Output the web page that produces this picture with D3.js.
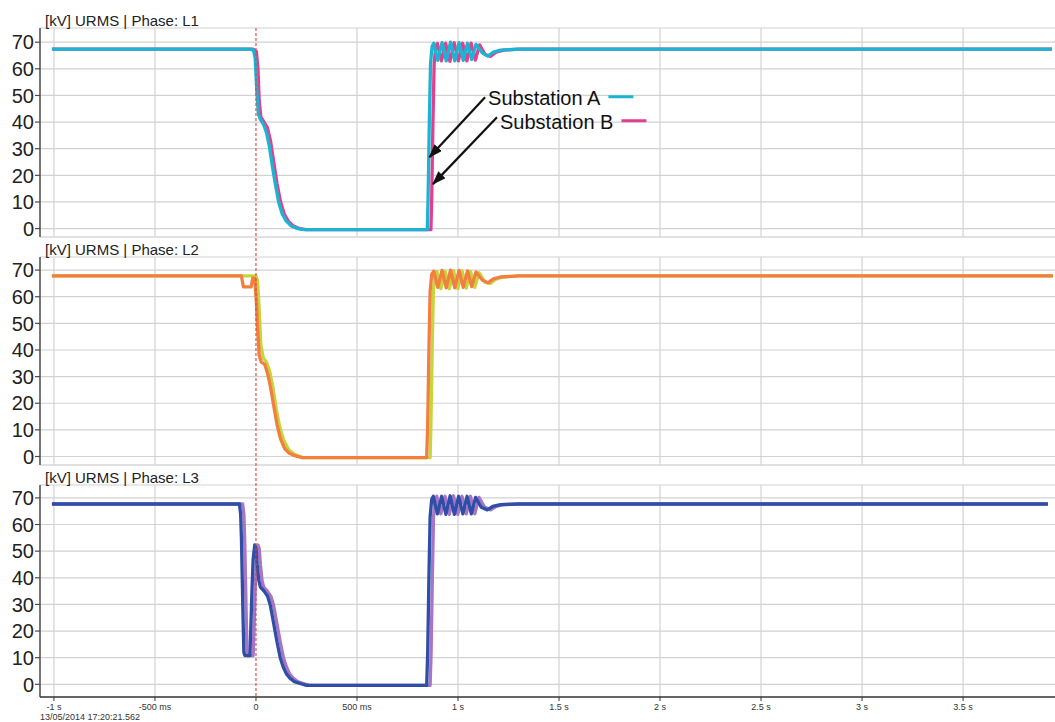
<!DOCTYPE html>
<html>
<head>
<meta charset="utf-8">
<script src="https://cdn.jsdelivr.net/npm/d3@7"></script>
<style>
  body { margin: 0; background: #fff; }
  svg { display: block; font-family: "Liberation Sans", Arial, sans-serif; }
</style>
</head>
<body>
<svg id="chart" width="1055" height="722"></svg>
<script>
// phases, ticks and labels
const phases = ["L1", "L2", "L3"];
const yTicks = [0, 10, 20, 30, 40, 50, 60, 70];
const timeTicks = [-1000, -500, 0, 500, 1000, 1500, 2000, 2500, 3000, 3500];
const timeLabels = ["-1 s", "-500 ms", "0", "500 ms", "1 s", "1.5 s", "2 s", "2.5 s", "3 s", "3.5 s"];
const stamp = "13/05/2014 17:20:21.562";
const legendNames = ["Substation A", "Substation B"];

// [ms, kV]
const l1A = [[-1010,67.4],[-30,67.4],[-12,67],[-4,64],[4,52],[12,43],[22,41],[38,39],[52,36],[66,31],[80,24],[95,17],[112,10],[130,5.5],[150,2.8],[175,1],[205,0],[240,-0.4],[848,-0.4],[852,12],[858,40],[864,62],[872,68.5],[880,69.6],[900,63.2],[921,69.8],[942,63],[963,70],[984,63],[1005,69.8],[1026,63.2],[1047,69.6],[1068,63.5],[1089,69.2],[1120,66],[1148,64.8],[1175,66.3],[1210,67],[1300,67.4],[3940,67.4]];
const l1B = [[-1010,67.4],[-15,67.4],[2,66.5],[10,60],[16,48],[24,42],[40,40],[56,38],[72,33],[88,25],[104,17],[122,10],[140,5.5],[160,2.8],[185,1],[215,0],[250,-0.4],[866,-0.4],[870,12],[876,40],[882,62],[890,68.5],[898,69.5],[918,63],[939,69.6],[960,62.8],[981,69.8],[1002,63],[1023,69.6],[1044,63],[1065,69.6],[1086,63.3],[1107,69],[1135,65.3],[1162,64.7],[1190,66.3],[1225,67],[1300,67.4],[3940,67.4]];
const l2A = [[-1010,67.8],[-72,67.8],[-62,63.7],[-24,63.7],[-16,67],[-6,67],[2,58],[8,48],[16,38],[26,35.5],[44,34.5],[58,31],[72,26],[88,19],[104,12],[122,6.5],[142,3],[165,1.2],[195,0.2],[230,-0.4],[845,-0.4],[850,12],[856,40],[862,62],[870,68.5],[880,69.6],[900,63.5],[921,69.9],[942,63.3],[963,70],[984,63.3],[1005,69.9],[1026,63.5],[1047,69.7],[1068,63.8],[1089,69.3],[1120,66.3],[1148,65.2],[1175,66.7],[1210,67.4],[1300,67.8],[3945,67.8]];
const l2B = [[-1010,67.8],[0,67.8],[8,66],[16,55],[24,42],[36,37],[52,35.5],[68,32],[84,26],[100,18],[118,11],[138,6],[162,2.5],[190,0.8],[230,-0.4],[862,-0.4],[866,12],[872,40],[878,62],[886,68.5],[895,69.5],[915,63],[936,69.6],[957,63],[978,69.8],[999,63],[1020,69.7],[1041,63.2],[1062,69.5],[1083,63.5],[1104,69],[1133,65.5],[1160,65],[1188,66.6],[1222,67.4],[1300,67.8],[3945,67.8]];
const l3A = [[-1010,67.7],[-82,67.7],[-76,64],[-72,55],[-68,40],[-64,25],[-60,12],[-55,10.8],[-30,10.8],[-26,20],[-20,35],[-14,47],[-6,52.3],[0,51],[6,45],[14,39],[22,36.5],[40,35],[58,33],[70,30],[80,26],[92,21],[104,16],[120,10],[135,6.5],[150,4],[168,2.3],[190,1],[218,0.3],[250,-0.4],[845,-0.4],[850,12],[856,40],[862,63],[870,69.5],[878,70.6],[898,64],[919,70.6],[940,63.8],[961,70.8],[982,63.8],[1003,70.6],[1024,64],[1045,70.6],[1066,64],[1087,70.2],[1115,66.5],[1145,65.5],[1172,66.8],[1210,67.5],[1300,67.7],[3920,67.7]];
const l3B = [[-1010,67.7],[-66,67.7],[-60,64],[-56,55],[-52,40],[-48,25],[-44,12],[-40,10.8],[-14,10.8],[-10,20],[-4,35],[2,47],[10,52.3],[16,51],[22,45],[30,39],[38,36.5],[56,35],[74,33],[86,30],[96,26],[108,21],[120,16],[136,10],[151,6.5],[166,4],[184,2.3],[206,1],[234,0.3],[266,-0.4],[862,-0.4],[867,12],[873,40],[879,63],[887,69.5],[895,70.6],[915,64],[936,70.6],[957,63.8],[978,70.8],[999,63.8],[1020,70.6],[1041,64],[1062,70.6],[1083,64],[1104,70.2],[1132,66.5],[1162,65.5],[1189,66.8],[1227,67.5],[1300,67.7],[3920,67.7]];

const seriesA = [l1A, l2A, l3A];
const seriesB = [l1B, l2B, l3B];
const colorsA = ["#1cb4d3", "#f27f40", "#2f4fa6"];
const colorsB = ["#e2408e", "#c6d53a", "#a774c6"];

// annotation positions in data units (ms, kV) on panel L1
const arrowTails = [[1134, 49.3], [1193, 41.8]];
const arrowTips = [[858, 26.8], [876, 16.7]];
const legendAnchors = [[1149, 46.5], [1208, 37.5]];

const svg = d3.select("#chart");
const W = 1055;
const axisX = 40;

const x = d3.scaleLinear().domain([-1069, 3955]).range([axisX, W]);

const tops = [28, 257, 485];
const zeros = [228.6, 456.5, 684.3];
const bottoms = [237, 465, 697];
const pxPerKv = 2.663;

svg.append("defs").append("marker")
  .attr("id", "head")
  .attr("viewBox", "0 0 14 10")
  .attr("refX", 13).attr("refY", 5)
  .attr("markerWidth", 14).attr("markerHeight", 10)
  .attr("markerUnits", "userSpaceOnUse")
  .attr("orient", "auto")
  .append("path").attr("d", "M0,0 L14,5 L0,10 Z").attr("fill", "#111");

phases.forEach((ph, i) => {
  const y = d3.scaleLinear().domain([0, 70]).range([zeros[i], zeros[i] - 70 * pxPerKv]);
  const g = svg.append("g");

  // horizontal grid
  g.selectAll(".hg").data(yTicks).join("line")
    .attr("x1", axisX).attr("x2", W)
    .attr("y1", d => y(d)).attr("y2", d => y(d))
    .attr("stroke", "#d2d2d2").attr("stroke-width", 1.2);
  g.append("line").attr("x1", axisX).attr("x2", W).attr("y1", tops[i]).attr("y2", tops[i])
    .attr("stroke", "#d2d2d2").attr("stroke-width", 1.2);
  if (i < 2) {
    g.append("line").attr("x1", axisX).attr("x2", W).attr("y1", bottoms[i]).attr("y2", bottoms[i])
      .attr("stroke", "#c4c4c4").attr("stroke-width", 1.2);
  }

  // vertical grid
  g.selectAll(".vg").data(timeTicks.filter(d => d !== 0)).join("line")
    .attr("x1", d => x(d)).attr("x2", d => x(d))
    .attr("y1", tops[i]).attr("y2", bottoms[i])
    .attr("stroke", "#d2d2d2").attr("stroke-width", 1.2);

  // y axis
  g.append("line").attr("x1", axisX).attr("x2", axisX).attr("y1", tops[i]).attr("y2", bottoms[i])
    .attr("stroke", "#4a4a4a").attr("stroke-width", 1.5);
  g.selectAll(".yt").data(yTicks).join("line")
    .attr("x1", axisX - 5).attr("x2", axisX)
    .attr("y1", d => y(d)).attr("y2", d => y(d))
    .attr("stroke", "#4a4a4a").attr("stroke-width", 1.2);
  g.selectAll(".yl").data(yTicks).join("text")
    .attr("x", axisX - 6).attr("y", d => y(d)).attr("dy", "0.36em")
    .attr("text-anchor", "end").attr("font-size", 20).attr("fill", "#222")
    .text(d => d);

  // title
  g.append("text").attr("x", 45).attr("y", tops[i] - 2)
    .attr("font-size", 15).attr("fill", "#222")
    .text(`[kV] URMS | Phase: ${ph}`);

  const line = d3.line().x(d => x(d[0])).y(d => y(d[1]));
  g.append("path").datum(seriesB[i]).attr("d", line)
    .attr("fill", "none").attr("stroke", colorsB[i]).attr("stroke-width", 3.3)
    .attr("stroke-linejoin", "round");
  g.append("path").datum(seriesA[i]).attr("d", line)
    .attr("fill", "none").attr("stroke", colorsA[i]).attr("stroke-width", 3.3)
    .attr("stroke-linejoin", "round");

  if (i === 0) {
    arrowTails.forEach((t, k) => {
      g.append("line")
        .attr("x1", x(t[0])).attr("y1", y(t[1]))
        .attr("x2", x(arrowTips[k][0])).attr("y2", y(arrowTips[k][1]))
        .attr("stroke", "#111").attr("stroke-width", 2.2)
        .attr("marker-end", "url(#head)");
    });
    legendNames.forEach((name, k) => {
      const a = legendAnchors[k];
      const tx = g.append("text").attr("x", x(a[0])).attr("y", y(a[1]))
        .attr("font-size", 20).attr("fill", "#111").text(name);
      const end = x(a[0]) + tx.node().getComputedTextLength();
      g.append("line").attr("x1", end + 8).attr("x2", end + 33)
        .attr("y1", y(a[1]) - 8).attr("y2", y(a[1]) - 8)
        .attr("stroke", k === 0 ? colorsA[0] : colorsB[0]).attr("stroke-width", 3);
    });
  }
});

// trigger marker at t = 0
svg.append("line").attr("x1", x(0)).attr("x2", x(0)).attr("y1", tops[0]).attr("y2", bottoms[2])
  .attr("stroke", "#e0443c").attr("stroke-width", 1.1).attr("stroke-dasharray", "3,2");

// time axis
const xAxisY = bottoms[2];
svg.append("line").attr("x1", axisX).attr("x2", W).attr("y1", xAxisY).attr("y2", xAxisY)
  .attr("stroke", "#333").attr("stroke-width", 1.6);
svg.selectAll(".xt").data(timeTicks).join("line")
  .attr("x1", d => x(d)).attr("x2", d => x(d))
  .attr("y1", xAxisY).attr("y2", xAxisY + 4)
  .attr("stroke", "#333").attr("stroke-width", 1);
svg.selectAll(".xl").data(timeTicks).join("text")
  .attr("x", d => x(d)).attr("y", xAxisY + 13)
  .attr("text-anchor", "middle").attr("font-size", 9).attr("fill", "#333")
  .text((d, k) => timeLabels[k]);
svg.append("text").attr("x", axisX).attr("y", xAxisY + 23)
  .attr("font-size", 9).attr("fill", "#333").text(stamp);
</script>
</body>
</html>
